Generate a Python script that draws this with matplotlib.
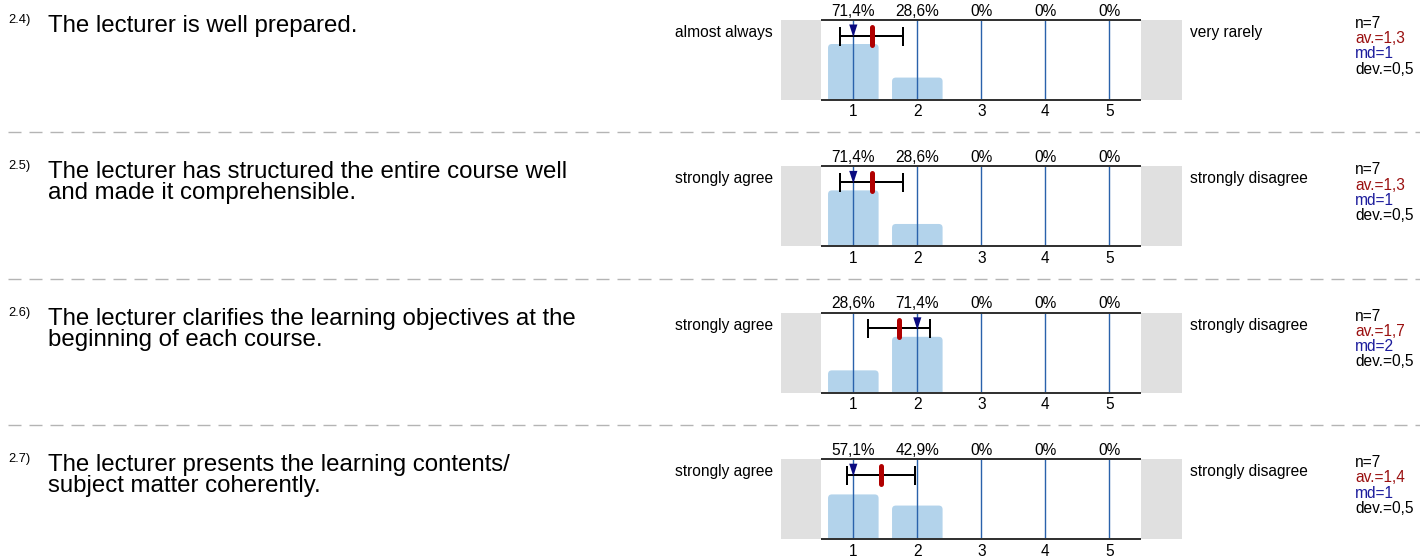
import matplotlib
matplotlib.use('Agg')
import matplotlib.pyplot as plt
from matplotlib.patches import FancyBboxPatch, Polygon
from matplotlib.patches import BoxStyle
from matplotlib.lines import Line2D

plt.rcParams['font.family'] = ['Liberation Sans', 'DejaVu Sans']
plt.rcParams['lines.scale_dashes'] = False

# ---------------- data ----------------
q_numbers = ["2.4)", "2.5)", "2.6)", "2.7)"]
q_texts = [
    ["The lecturer is well prepared."],
    ["The lecturer has structured the entire course well", "and made it comprehensible."],
    ["The lecturer clarifies the learning objectives at the", "beginning of each course."],
    ["The lecturer presents the learning contents/", "subject matter coherently."],
]
left_labels = ["almost always", "strongly agree", "strongly agree", "strongly agree"]
right_labels = ["very rarely", "strongly disagree", "strongly disagree", "strongly disagree"]
scale_points = [1, 2, 3, 4, 5]
percentages = [
    [71.4, 28.6, 0, 0, 0],
    [71.4, 28.6, 0, 0, 0],
    [28.6, 71.4, 0, 0, 0],
    [57.1, 42.9, 0, 0, 0],
]
n_values = [7, 7, 7, 7]
means = [1.286, 1.286, 1.714, 1.429]
medians = [1, 1, 2, 1]
devs = [0.488, 0.488, 0.488, 0.535]

# ---------------- layout ----------------
W, H = 1420, 556
fig = plt.figure(figsize=(W / 100, H / 100), dpi=100)


def fx(px):
    return px / W


def fy(py):
    return 1 - py / H


PX = 0.72  # points per pixel
tops = [20, 166.4, 312.8, 459.2]
box_h = 80
YMAX = 102.0
ypx = box_h / YMAX  # pixels per percent

BAR_C = '#b3d3eb'
VLINE_C = '#2a62ab'
FRAME_C = '#333333'
GRAY_C = '#e0e0e0'
RED_C = '#b00000'
NAVY_C = '#0a0a80'
AV_C = '#9a1010'
MD_C = '#1c1c9c'

F_MAIN = 24 * PX
F_SMALL = 15.5 * PX
F_NUM = 12.9 * PX


def fmt_pct(v):
    if v == 0:
        return "0%"
    return f"{v:.1f}".replace('.', ',') + "%"


def fmt1(v):
    return f"{v:.1f}".replace('.', ',')


def y_from_top(px):
    return YMAX - px / ypx


for i, top in enumerate(tops):
    # question number and text
    fig.text(fx(8), fy(top + 3), q_numbers[i], fontsize=F_NUM, ha='left', va='baseline')
    for j, line in enumerate(q_texts[i]):
        fig.text(fx(48), fy(top + 12 + 21 * j), line, fontsize=F_MAIN, ha='left', va='baseline')

    # scale labels
    fig.text(fx(773), fy(top + 17), left_labels[i], fontsize=F_SMALL, ha='right', va='baseline')
    fig.text(fx(1190), fy(top + 17), right_labels[i], fontsize=F_SMALL, ha='left', va='baseline')

    # stats
    stats = [(f"n={n_values[i]}", 'black'),
             (f"av.={fmt1(means[i])}", AV_C),
             (f"md={medians[i]}", MD_C),
             (f"dev.={fmt1(devs[i])}", 'black')]
    for k, (s, c) in enumerate(stats):
        fig.text(fx(1355), fy(top + 8 + 15.2 * k), s, fontsize=F_SMALL, color=c,
                 ha='left', va='baseline')

    # chart axes
    ax = fig.add_axes([fx(781), fy(top + box_h), 401 / W, box_h / H])
    ax.set_xlim(-0.13, 6.136)
    ax.set_ylim(0, YMAX)
    for sp in ax.spines.values():
        sp.set_visible(False)
    ax.set_yticks([])
    ax.set_xticks(scale_points)
    ax.set_xticklabels([str(p) for p in scale_points])
    ax.tick_params(axis='x', length=0, pad=3.2, labelsize=F_SMALL)

    ax.axvspan(-0.13, 0.5, color=GRAY_C, lw=0, zorder=0)
    ax.axvspan(5.5, 6.136, color=GRAY_C, lw=0, zorder=0)

    bars = ax.bar(scale_points, percentages[i], width=0.79, color=BAR_C, zorder=1)
    r = 0.06
    for b in bars:
        h = b.get_height()
        b.set_visible(False)
        if h <= 0:
            continue
        ext = 8
        fb = FancyBboxPatch((b.get_x(), -ext), b.get_width(), h + ext,
                            boxstyle=BoxStyle.Round(pad=0, rounding_size=r),
                            mutation_aspect=64 / ypx,
                            facecolor=BAR_C, edgecolor='none', zorder=1)
        ax.add_patch(fb)

    for p in scale_points:
        ax.plot([p, p], [0, YMAX], color=VLINE_C, lw=1.4 * PX, zorder=2)

    ax.plot([0.5, 5.5], [0, 0], color=FRAME_C, lw=2 * PX, zorder=3, clip_on=False,
            solid_capstyle='butt')
    ax.plot([0.5, 5.5], [YMAX, YMAX], color=FRAME_C, lw=2 * PX, zorder=3, clip_on=False,
            solid_capstyle='butt')

    for p, v in zip(scale_points, percentages[i]):
        ax.annotate(fmt_pct(v), xy=(p, YMAX), xytext=(0, 4.5), textcoords='offset pixels',
                    ha='center', va='baseline', fontsize=F_SMALL, annotation_clip=False)

    # std-dev error bar
    ax.errorbar([means[i]], [y_from_top(15.5)], xerr=[devs[i]], fmt='none',
                ecolor='black', elinewidth=2 * PX, capsize=9.5 * PX, capthick=2 * PX,
                zorder=4)

    # median triangle
    md = medians[i]
    tri = Polygon([(md - 0.064, y_from_top(4.5)), (md + 0.064, y_from_top(4.5)),
                   (md, y_from_top(17))], closed=True, facecolor=NAVY_C,
                  edgecolor='none', zorder=5)
    ax.add_patch(tri)

    # mean marker
    ax.plot([means[i], means[i]], [y_from_top(7), y_from_top(24.5)], color=RED_C,
            lw=5 * PX, solid_capstyle='round', zorder=6)

# dashed separators
for k in range(3):
    ysep = (tops[k] + tops[k + 1]) / 2 + 39.2
    ln = Line2D([fx(8), fx(1420)], [fy(ysep), fy(ysep)], transform=fig.transFigure,
                color='#b4b4b4', lw=1.4 * PX, linestyle=(0, (13 * PX, 8 * PX)))
    fig.add_artist(ln)

fig.savefig('out.png', dpi=100)
